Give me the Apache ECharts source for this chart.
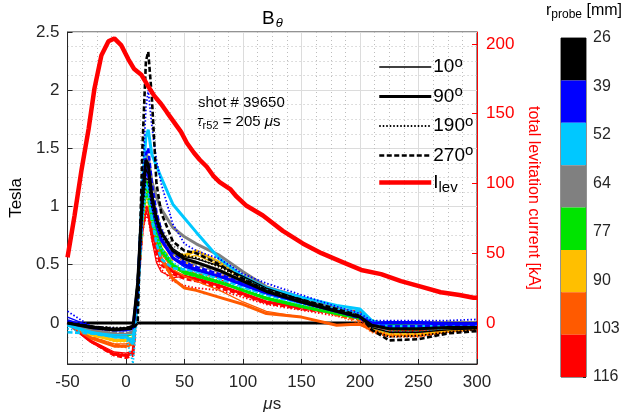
<!DOCTYPE html>
<html>
<head>
<meta charset="utf-8">
<script src="https://cdn.jsdelivr.net/npm/echarts@6/dist/echarts.min.js"></script>
<style>
  html, body { margin: 0; padding: 0; background: #fff; }
  #chart { width: 627px; height: 420px; }
</style>
</head>
<body>
<div id="chart"></div>
<script>
// time base (µs) for the probe traces
const T = [-50, -30, -10, 0, 6, 10, 14, 17, 19, 22, 26, 30, 40, 50, 60, 80, 100, 120, 150, 180, 200, 210, 225, 250, 275, 300];

// B_theta [T] per probe radius, for angles 10, 90, 190, 270 deg
const r26_10 = [0.00, -0.03, -0.05, -0.04, -0.02, 0.30, 1.00, 1.32, 1.28, 1.05, 0.88, 0.78, 0.64, 0.57, 0.55, 0.49, 0.40, 0.30, 0.20, 0.10, 0.05, -0.04, -0.08, -0.08, -0.06, -0.05];
const r26_90 = [0.00, -0.04, -0.06, -0.05, -0.03, 0.35, 1.10, 1.40, 1.36, 1.10, 0.90, 0.78, 0.62, 0.55, 0.52, 0.45, 0.36, 0.27, 0.18, 0.10, 0.05, -0.02, -0.05, -0.05, -0.04, -0.04];
const r26_190 = [0.00, -0.03, -0.04, -0.04, -0.03, 0.25, 0.95, 1.25, 1.22, 1.00, 0.85, 0.75, 0.62, 0.58, 0.56, 0.48, 0.38, 0.29, 0.20, 0.11, 0.06, -0.06, -0.12, -0.11, -0.08, -0.06];
const r26_270 = [0.00, -0.03, -0.05, -0.05, -0.05, 0.00, 1.50, 2.25, 2.33, 1.95, 1.20, 0.95, 0.70, 0.62, 0.60, 0.50, 0.38, 0.28, 0.20, 0.12, 0.06, -0.06, -0.15, -0.14, -0.09, -0.07];

const r39_10 = [0.05, -0.03, -0.05, -0.05, -0.03, 0.30, 1.00, 1.28, 1.25, 1.00, 0.82, 0.70, 0.55, 0.48, 0.45, 0.40, 0.32, 0.25, 0.17, 0.10, 0.05, 0.00, 0.01, 0.01, 0.00, 0.00];
const r39_90 = [0.02, -0.04, -0.06, -0.06, -0.04, 0.32, 1.05, 1.35, 1.30, 1.05, 0.85, 0.72, 0.56, 0.50, 0.46, 0.40, 0.33, 0.26, 0.18, 0.10, 0.05, 0.00, 0.00, 0.00, -0.01, -0.01];
const r39_190 = [0.10, -0.03, -0.05, -0.05, -0.04, 0.20, 1.20, 1.85, 2.00, 1.70, 1.40, 1.20, 0.85, 0.68, 0.62, 0.55, 0.42, 0.34, 0.24, 0.14, 0.08, 0.02, 0.02, 0.02, 0.02, 0.03];
const r39_270 = [0.00, -0.04, -0.06, -0.06, -0.05, 0.25, 1.05, 1.45, 1.50, 1.20, 0.95, 0.80, 0.60, 0.52, 0.48, 0.42, 0.34, 0.26, 0.18, 0.10, 0.04, -0.02, -0.03, -0.03, -0.02, -0.02];

const r52_10 = [-0.02, -0.08, -0.10, -0.10, -0.10, 0.30, 1.05, 1.30, 1.28, 1.05, 0.85, 0.72, 0.56, 0.48, 0.45, 0.40, 0.33, 0.25, 0.18, 0.12, 0.08, 0.00, -0.04, -0.04, -0.03, -0.03];
const r52_90 = [-0.02, -0.08, -0.12, -0.12, -0.18, 0.20, 1.20, 1.60, 1.66, 1.45, 1.35, 1.25, 1.02, 0.90, 0.78, 0.55, 0.40, 0.30, 0.22, 0.15, 0.12, 0.02, -0.03, -0.03, -0.03, -0.02];
const r52_190 = [-0.05, -0.09, -0.12, -0.12, -0.35, 0.10, 0.85, 1.10, 1.08, 0.90, 0.75, 0.64, 0.52, 0.46, 0.44, 0.38, 0.30, 0.24, 0.16, 0.10, 0.06, -0.04, -0.08, -0.08, -0.05, -0.04];
const r52_270 = [-0.08, -0.09, -0.12, -0.13, -0.14, 0.25, 0.95, 1.20, 1.15, 0.90, 0.68, 0.55, 0.47, 0.46, 0.44, 0.38, 0.31, 0.24, 0.17, 0.12, 0.10, 0.00, -0.03, -0.03, -0.03, -0.02];

const r64_10 = [0.00, -0.06, -0.09, -0.09, -0.07, 0.28, 1.00, 1.30, 1.28, 1.05, 0.88, 0.78, 0.62, 0.56, 0.53, 0.46, 0.36, 0.27, 0.19, 0.11, 0.06, 0.00, -0.04, -0.04, -0.03, -0.03];
const r64_90 = [0.00, -0.06, -0.10, -0.10, -0.08, 0.30, 1.10, 1.45, 1.42, 1.22, 1.08, 0.98, 0.82, 0.74, 0.68, 0.58, 0.44, 0.31, 0.22, 0.13, 0.08, 0.00, -0.03, -0.04, -0.04, -0.03];
const r64_190 = [0.00, -0.05, -0.08, -0.08, -0.06, 0.28, 1.05, 1.38, 1.35, 1.12, 0.95, 0.82, 0.66, 0.62, 0.60, 0.52, 0.40, 0.30, 0.21, 0.12, 0.07, -0.03, -0.08, -0.08, -0.05, -0.04];
const r64_270 = [0.00, -0.06, -0.09, -0.09, -0.08, 0.25, 1.00, 1.30, 1.28, 1.05, 0.88, 0.76, 0.60, 0.54, 0.50, 0.44, 0.35, 0.27, 0.19, 0.11, 0.06, -0.01, -0.05, -0.05, -0.04, -0.03];

const r77_10 = [0.00, -0.07, -0.10, -0.10, -0.08, 0.30, 0.95, 1.15, 1.12, 0.90, 0.72, 0.62, 0.48, 0.42, 0.40, 0.34, 0.28, 0.22, 0.15, 0.08, 0.04, 0.00, -0.03, -0.03, -0.02, -0.02];
const r77_90 = [0.00, -0.08, -0.11, -0.11, -0.09, 0.32, 1.00, 1.22, 1.18, 0.95, 0.76, 0.64, 0.50, 0.44, 0.41, 0.35, 0.28, 0.21, 0.14, 0.08, 0.04, 0.02, -0.02, -0.03, -0.03, -0.02];
const r77_190 = [0.00, -0.07, -0.10, -0.10, -0.08, 0.28, 0.90, 1.10, 1.06, 0.86, 0.70, 0.60, 0.48, 0.44, 0.42, 0.36, 0.29, 0.22, 0.15, 0.09, 0.05, -0.02, -0.06, -0.06, -0.04, -0.03];
const r77_270 = [0.00, -0.08, -0.11, -0.11, -0.09, 0.28, 0.92, 1.12, 1.08, 0.88, 0.72, 0.62, 0.49, 0.43, 0.40, 0.35, 0.28, 0.21, 0.14, 0.08, 0.04, 0.00, -0.04, -0.04, -0.03, -0.02];

const r90_10 = [0.00, -0.09, -0.14, -0.14, -0.12, 0.30, 0.90, 1.10, 1.08, 0.90, 0.76, 0.68, 0.58, 0.56, 0.58, 0.50, 0.38, 0.28, 0.19, 0.10, 0.05, -0.02, -0.05, -0.05, -0.04, -0.03];
const r90_90 = [0.00, -0.10, -0.15, -0.15, -0.13, 0.32, 0.95, 1.15, 1.12, 0.95, 0.80, 0.70, 0.60, 0.58, 0.62, 0.52, 0.40, 0.30, 0.20, 0.11, 0.06, 0.00, -0.04, -0.04, -0.03, -0.03];
const r90_190 = [0.00, -0.10, -0.16, -0.16, -0.14, 0.26, 0.85, 1.05, 1.02, 0.88, 0.78, 0.72, 0.62, 0.58, 0.56, 0.48, 0.38, 0.28, 0.20, 0.11, 0.05, -0.05, -0.10, -0.10, -0.07, -0.05];
const r90_270 = [0.00, -0.10, -0.15, -0.15, -0.14, 0.28, 0.88, 1.08, 1.05, 0.88, 0.74, 0.64, 0.54, 0.52, 0.52, 0.45, 0.36, 0.27, 0.18, 0.10, 0.05, -0.04, -0.09, -0.09, -0.06, -0.04];

const r103_10 = [0.00, -0.12, -0.18, -0.18, -0.16, 0.30, 0.90, 1.12, 1.10, 0.90, 0.72, 0.60, 0.46, 0.40, 0.36, 0.28, 0.18, 0.10, 0.05, -0.02, -0.02, -0.06, -0.09, -0.09, -0.07, -0.05];
const r103_90 = [0.00, -0.13, -0.20, -0.20, -0.18, 0.32, 0.95, 1.22, 1.18, 0.95, 0.72, 0.56, 0.38, 0.30, 0.28, 0.22, 0.16, 0.08, 0.05, -0.02, -0.01, -0.06, -0.10, -0.10, -0.07, -0.05];
const r103_190 = [0.00, -0.13, -0.20, -0.21, -0.19, 0.28, 0.88, 1.10, 1.08, 0.92, 0.80, 0.72, 0.60, 0.52, 0.48, 0.42, 0.34, 0.26, 0.17, 0.06, 0.00, -0.08, -0.12, -0.12, -0.08, -0.05];
const r103_270 = [0.00, -0.12, -0.19, -0.20, -0.18, 0.28, 0.92, 1.15, 1.12, 0.92, 0.74, 0.62, 0.48, 0.44, 0.42, 0.40, 0.34, 0.27, 0.18, 0.07, 0.02, -0.07, -0.11, -0.11, -0.08, -0.05];

const r116_10 = [0.00, -0.15, -0.25, -0.26, -0.24, 0.30, 0.80, 0.95, 0.92, 0.72, 0.52, 0.44, 0.39, 0.40, 0.47, 0.38, 0.26, 0.18, 0.12, 0.08, 0.07, -0.03, -0.06, -0.06, -0.05, -0.04];
const r116_90 = [0.00, -0.16, -0.27, -0.28, -0.26, 0.30, 0.85, 1.00, 0.98, 0.80, 0.64, 0.54, 0.44, 0.40, 0.38, 0.32, 0.25, 0.18, 0.14, 0.10, 0.10, 0.00, -0.05, -0.06, -0.05, -0.04];
const r116_190 = [0.00, -0.16, -0.26, -0.27, -0.25, 0.28, 0.78, 0.92, 0.90, 0.72, 0.56, 0.46, 0.36, 0.32, 0.30, 0.28, 0.22, 0.16, 0.11, 0.06, 0.03, -0.06, -0.09, -0.09, -0.06, -0.05];
const r116_270 = [0.00, -0.16, -0.28, -0.30, -0.28, 0.26, 0.80, 0.96, 0.94, 0.76, 0.60, 0.50, 0.42, 0.38, 0.36, 0.30, 0.24, 0.17, 0.12, 0.08, 0.06, -0.04, -0.08, -0.08, -0.06, -0.05];

// levitation current [kA]
const iLevT = [-50, -44, -38, -32, -27, -21, -15, -10, -4, 2, 7, 13, 18, 24, 30, 35, 41, 47, 52, 58, 63, 69, 75, 80, 89, 94, 103, 117, 134, 151, 167, 184, 201, 218, 235, 252, 269, 285, 297, 300];
const iLev = [47, 77, 110, 139, 168, 192, 202, 204, 199, 189, 182, 178, 171, 163, 157, 151, 144, 137, 129, 122, 117, 112, 105, 101, 96, 91, 84, 77, 66, 57, 50, 44, 38, 35, 30, 26, 22, 20, 18, 18];

const probeR = ['26', '39', '52', '64', '77', '90', '103', '116'];
const angles = ['10°', '90°', '190°', '270°'];
const zeroT = [-50, 300];
const zeroB = [0, 0];

const probeColors = ['#000000', '#0000ff', '#00c8ff', '#808080', '#00e400', '#ffbf00', '#ff5a00', '#ff0000'];
const angleStyles = [
  { width: 1.3, type: 'solid' },
  { width: 3, type: 'solid' },
  { width: 1.8, type: [1.5, 2] },
  { width: 2.6, type: [5, 2.5] },
];

const probeSets = [
  [r26_10, r26_90, r26_190, r26_270],
  [r39_10, r39_90, r39_190, r39_270],
  [r52_10, r52_90, r52_190, r52_270],
  [r64_10, r64_90, r64_190, r64_270],
  [r77_10, r77_90, r77_190, r77_270],
  [r90_10, r90_90, r90_190, r90_270],
  [r103_10, r103_90, r103_190, r103_270],
  [r116_10, r116_90, r116_190, r116_270],
];

const FONT = '"Liberation Sans", Arial, sans-serif';
const chart = echarts.init(document.getElementById('chart'));

const series = [];
// zero reference line
series.push({
  type: 'line', silent: true, symbol: 'none', z: 1,
  data: zeroT.map((t, i) => [t, zeroB[i]]),
  lineStyle: { color: '#000', width: 3 },
});
// probes, outer radius drawn first
for (let r = probeR.length - 1; r >= 0; r--) {
  probeSets[r].forEach((arr, a) => {
    series.push({
      type: 'line', symbol: 'none', silent: true, z: 2,
      data: T.map((t, i) => [t, arr[i]]),
      lineStyle: { color: probeColors[r], width: angleStyles[a].width, type: angleStyles[a].type },
    });
  });
}
// legend-only entries
angles.forEach((name, a) => {
  series.push({
    name: name, type: 'line', symbol: 'none', data: [],
    lineStyle: { color: '#000', width: angleStyles[a].width, type: angleStyles[a].type },
    itemStyle: { color: '#000' },
  });
});
series.push({
  name: 'Ilev', type: 'line', symbol: 'none', yAxisIndex: 1, z: 5,
  data: iLevT.map((t, i) => [t, iLev[i]]),
  lineStyle: { color: '#ff0000', width: 4.5 },
  itemStyle: { color: '#ff0000' },
});
// colorbar
series.push({
  type: 'bar', xAxisIndex: 1, yAxisIndex: 2, silent: true,
  barWidth: '100%', barCategoryGap: 0,
  data: probeR.map((r, i) => ({ value: 1, itemStyle: { color: probeColors[i] } })),
});

const option = {
  animation: false,
  textStyle: { fontFamily: FONT },
  title: {
    text: 'B{s|θ}', left: 257, top: 2,
    textStyle: {
      fontFamily: FONT, fontSize: 19, fontWeight: 'normal', color: '#000',
      rich: { s: { fontSize: 13, fontStyle: 'italic', verticalAlign: 'bottom', padding: [10, 0, 0, 1], fontFamily: FONT } },
    },
  },
  legend: {
    data: angles.concat(['Ilev']),
    orient: 'vertical', left: 372, top: 50,
    itemWidth: 52, itemHeight: 14, itemGap: 8,
    itemStyle: { opacity: 0 },
    lineStyle: { width: 'inherit', type: 'inherit', color: 'inherit' },
    formatter: name => name === 'Ilev' ? 'I{b|lev}' : name.replace('°', '') + '{s|o}',
    textStyle: {
      fontFamily: FONT, fontSize: 19, color: '#000', padding: [0, 0, 0, -3],
      rich: {
        s: { fontSize: 15, verticalAlign: 'top', padding: [0, 0, 9, 0], fontFamily: FONT },
        b: { fontSize: 15, verticalAlign: 'bottom', padding: [10, 0, 0, 0], fontFamily: FONT },
      },
    },
  },
  graphic: [
    { type: 'text', left: 198, top: 95, style: { text: 'shot # 39650', font: '15px ' + FONT, fill: '#000' } },
    {
      type: 'text', left: 197, top: 114,
      style: {
        text: '{t|τ}{s|r52} = 205 {t|μ}s', font: '15px ' + FONT, fill: '#000',
        rich: {
          t: { fontStyle: 'italic', fontSize: 15, fontFamily: FONT },
          s: { fontSize: 11, verticalAlign: 'bottom', padding: [8, 0, 0, 0], fontFamily: FONT },
        },
      },
    },
    {
      type: 'text', left: 546, top: 3,
      style: {
        text: 'r{s|probe} [mm]', font: '16px ' + FONT, fill: '#000',
        rich: { s: { fontSize: 12, verticalAlign: 'bottom', padding: [8, 0, 0, 0], fontFamily: FONT } },
      },
    },
  ],
  grid: [
    { left: 62, right: 150, top: 32, bottom: 56, show: true, borderColor: '#262626', borderWidth: 1 },
    { left: 561, width: 25, top: 38, height: 339, show: true, borderColor: '#262626', borderWidth: 1 },
  ],
  xAxis: [
    {
      type: 'value', gridIndex: 0, min: -50, max: 300, interval: 50,
      name: '{i|μ}s', nameLocation: 'middle', nameGap: 32,
      nameTextStyle: { fontFamily: FONT, fontSize: 17, color: '#262626', rich: { i: { fontStyle: 'italic', fontSize: 17, fontFamily: FONT } } },
      axisLine: { onZero: false, lineStyle: { color: '#262626', width: 1 } },
      axisTick: { inside: true, length: 5, lineStyle: { color: '#262626' } },
      axisLabel: { fontSize: 17, color: '#262626', margin: 10, fontFamily: FONT },
      splitLine: { show: true, lineStyle: { color: '#dcdcdc', width: 1 } },
      minorTick: { show: false, splitNumber: 4 },
      minorSplitLine: { show: true, lineStyle: { color: '#bdbdbd', type: [1, 3], width: 1 } },
    },
    {
      type: 'value', gridIndex: 1, min: 0, max: 1, show: false,
    },
  ],
  yAxis: [
    {
      type: 'value', gridIndex: 0, min: -0.353, max: 2.5, splitNumber: 6,
      name: 'Tesla', nameLocation: 'middle', nameGap: 40,
      nameTextStyle: { fontFamily: FONT, fontSize: 17, color: '#000' },
      axisLine: { show: true, onZero: false, lineStyle: { color: '#262626', width: 1 } },
      axisTick: { inside: true, length: 5, lineStyle: { color: '#262626' } },
      axisLabel: { fontSize: 17, color: '#262626', showMinLabel: false, fontFamily: FONT },
      splitLine: { show: true, lineStyle: { color: '#dcdcdc', width: 1 } },
      minorTick: { show: false, splitNumber: 4 },
      minorSplitLine: { show: true, lineStyle: { color: '#bdbdbd', type: [1, 3], width: 1 } },
    },
    {
      type: 'value', gridIndex: 0, position: 'right', min: -29.45, max: 208.6, splitNumber: 5,
      name: 'total levitation current [kA]', nameLocation: 'middle', nameGap: 48, nameRotate: -90,
      nameTextStyle: { fontFamily: FONT, fontSize: 16, color: '#ff0000' },
      axisLine: { show: true, onZero: false, lineStyle: { color: '#ff0000', width: 1 } },
      axisTick: { inside: true, length: 5, lineStyle: { color: '#ff0000' } },
      axisLabel: { fontSize: 17, color: '#ff0000', showMinLabel: false, showMaxLabel: false, fontFamily: FONT, margin: 9 },
      splitLine: { show: false },
    },
    {
      type: 'category', gridIndex: 1, data: probeR, inverse: true, show: false,
    },
    {
      type: 'value', gridIndex: 1, position: 'right', min: 0, max: 7, interval: 1, inverse: true,
      axisLine: { show: false, onZero: false },
      axisTick: { inside: true, length: 3, lineStyle: { color: '#262626' } },
      axisLabel: { fontSize: 16, color: '#262626', margin: 7, fontFamily: FONT, formatter: v => probeR[v] },
      splitLine: { show: false },
    },
  ],
  series: series,
};

chart.setOption(option);
</script>
</body>
</html>
